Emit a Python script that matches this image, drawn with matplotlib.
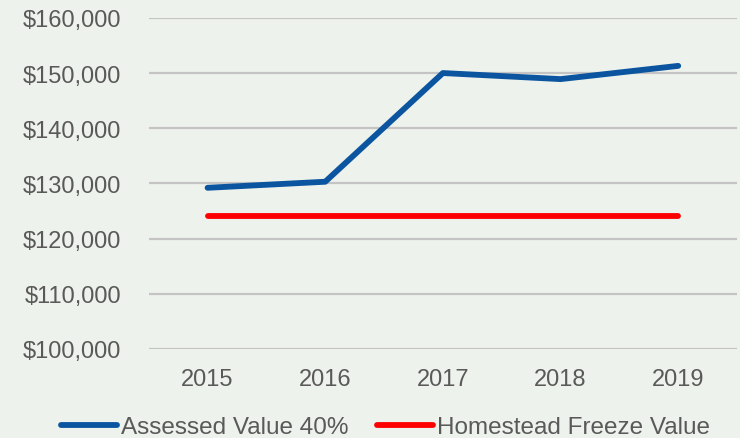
import matplotlib.pyplot as plt
from matplotlib.ticker import FuncFormatter

# Data points
years = ['2015', '2016', '2017', '2018', '2019']
assessed = [129200, 130300, 150000, 148900, 151300]
freeze = [124100, 124100, 124100, 124100, 124100]

bg = '#EEF2EC'
txt = '#595959'
plt.rcParams['font.family'] = ['Liberation Sans', 'DejaVu Sans']

fig = plt.figure(figsize=(7.4, 4.39), dpi=100, facecolor=bg)
ax = fig.add_axes([0.201, 0.203, 0.795, 0.754], facecolor=bg)

x = range(len(years))
ax.plot(x, assessed, color='#0B55A0', lw=4.2, solid_capstyle='round',
        solid_joinstyle='round', label='Assessed Value 40%', zorder=3)
ax.plot(x, freeze, color='#FF0000', lw=4.2, solid_capstyle='round',
        label='Homestead Freeze Value', zorder=3)

ax.set_xlim(-0.5, 4.5)
ax.set_ylim(100000, 160000)
ax.set_yticks(range(100000, 160001, 10000))
ax.yaxis.set_major_formatter(FuncFormatter(lambda v, p: f'${v:,.0f}'))
ax.set_xticks(list(x))
ax.set_xticklabels(years)
ax.grid(axis='y', color='#C4C4C4', lw=1.6)
ax.set_axisbelow(True)
for s in ax.spines.values():
    s.set_visible(False)
ax.tick_params(length=0, labelsize=17, colors=txt)
ax.tick_params(axis='y', pad=20)
ax.tick_params(axis='x', pad=14)

fig.legend(loc='center', bbox_to_anchor=(0.521, 0.025), ncol=2, frameon=False,
           fontsize=17.5, labelcolor=txt, handlelength=2.3, handletextpad=0.15,
           columnspacing=1.2, borderaxespad=0)

plt.savefig('out.png', dpi=100, facecolor=bg)
